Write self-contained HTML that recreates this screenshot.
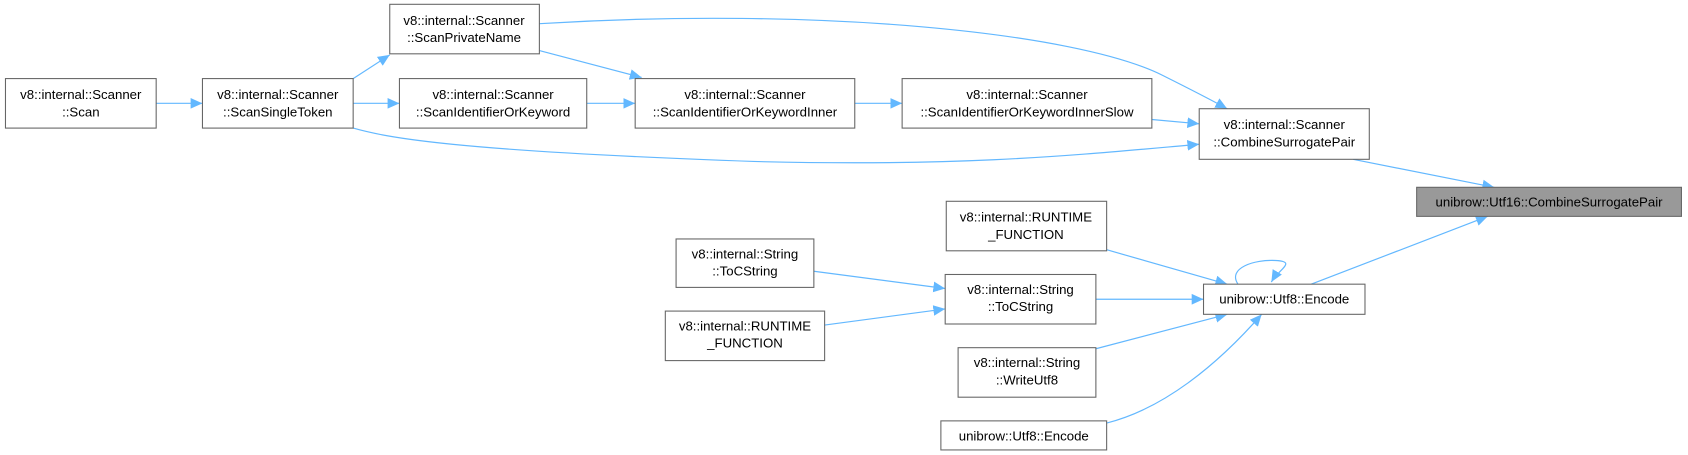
<!DOCTYPE html>
<html><head><meta charset="utf-8"><style>
html,body{margin:0;padding:0;background:#fff;width:1688px;height:455px;overflow:hidden}
svg text{font-family:"Liberation Sans","DejaVu Sans",sans-serif;font-size:12.3px;fill:#000;text-anchor:middle}
</style></head><body>
<svg width="1688" height="455" viewBox="0 0 1568 422.7" xmlns="http://www.w3.org/2000/svg">
<defs><marker id="a" viewBox="0 0 10 10" refX="10" refY="5" markerWidth="11" markerHeight="11" markerUnits="userSpaceOnUse" orient="auto"><path d="M0,0.5L10,5L0,9.5z" fill="#63b8ff"/></marker></defs>
<g fill="none" stroke="#63b8ff" stroke-width="1.1" marker-end="url(#a)">
<path d="M145,96H188"/>
<path d="M328,73L362,51"/>
<path d="M328,96H371"/>
<path d="M545,96H590"/>
<path d="M501,47L596,72"/>
<path d="M794,96H838"/>
<path d="M1070,111L1114,115"/>
<path d="M501,22C760,6 1000,30 1080,70C1100,80 1120,90 1140,101"/>
<path d="M328,119C360,128 420,140 700,150C900,155 1000,144 1114,134"/>
<path d="M1257,148L1388,174"/>
<path d="M1218,264L1382,201"/>
<path d="M1150,264C1140,249 1165,241 1185,242C1205,243 1188,250 1181,262"/>
<path d="M1028,232L1140,264"/>
<path d="M1018,278H1118"/>
<path d="M1018,324L1140,292"/>
<path d="M1028,393C1080,380 1130,340 1172,292"/>
<path d="M756,252L878,268"/>
<path d="M766,302L878,287"/>
</g>
<g stroke="#666" stroke-width="1" fill="#fff">
<rect x="5" y="73" width="140" height="46"/>
<rect x="188" y="73" width="140" height="46"/>
<rect x="362" y="4" width="139" height="46"/>
<rect x="371" y="73" width="174" height="46"/>
<rect x="590" y="73" width="204" height="46"/>
<rect x="838" y="73" width="232" height="46"/>
<rect x="1114" y="101" width="158" height="47"/>
<rect x="1316" y="174" width="246" height="27" fill="#999"/>
<rect x="879" y="187" width="149" height="46"/>
<rect x="628" y="222" width="128" height="45"/>
<rect x="878" y="255" width="140" height="46"/>
<rect x="618" y="289" width="148" height="46"/>
<rect x="1118" y="264" width="150" height="28"/>
<rect x="890" y="323" width="128" height="46"/>
<rect x="874" y="391" width="154" height="27"/>
</g>
<text x="75" y="92">v8::internal::Scanner</text><text x="75" y="108">::Scan</text>
<text x="258" y="92">v8::internal::Scanner</text><text x="258" y="108">::ScanSingleToken</text>
<text x="431" y="23">v8::internal::Scanner</text><text x="431" y="39">::ScanPrivateName</text>
<text x="458" y="92">v8::internal::Scanner</text><text x="458" y="108">::ScanIdentifierOrKeyword</text>
<text x="692" y="92">v8::internal::Scanner</text><text x="692" y="108">::ScanIdentifierOrKeywordInner</text>
<text x="954" y="92">v8::internal::Scanner</text><text x="954" y="108">::ScanIdentifierOrKeywordInnerSlow</text>
<text x="1193" y="120">v8::internal::Scanner</text><text x="1193" y="136">::CombineSurrogatePair</text>
<text x="1439" y="192">unibrow::Utf16::CombineSurrogatePair</text>
<text x="953" y="206">v8::internal::RUNTIME</text><text x="953" y="222">_FUNCTION</text>
<text x="692" y="240">v8::internal::String</text><text x="692" y="256">::ToCString</text>
<text x="948" y="273">v8::internal::String</text><text x="948" y="289">::ToCString</text>
<text x="692" y="307">v8::internal::RUNTIME</text><text x="692" y="323">_FUNCTION</text>
<text x="1193" y="282">unibrow::Utf8::Encode</text>
<text x="954" y="341">v8::internal::String</text><text x="954" y="357">::WriteUtf8</text>
<text x="951" y="409">unibrow::Utf8::Encode</text>
</svg>
</body></html>
